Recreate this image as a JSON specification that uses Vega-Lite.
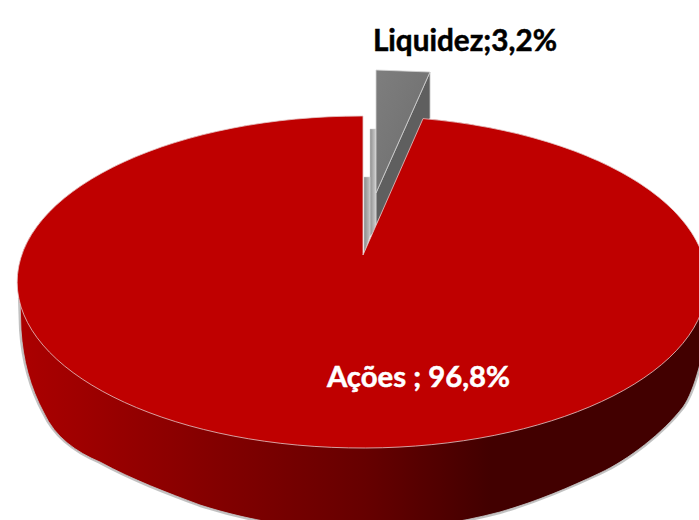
{
"$schema":"https://vega.github.io/schema/vega-lite/v6.json",
"width":699,"height":520,"padding":0,
"autosize":{"type":"fit","contains":"padding"},
"background":"#ffffff",
"config":{"view":{"stroke":null}},
"data":{"values":[
{"categoria":"Ações","valor":96.8,"rotulo":"Ações ; 96,8%"},
{"categoria":"Liquidez","valor":3.2,"rotulo":"Liquidez;3,2%"}
]},
"encoding":{
"x":{"field":"categoria","type":"nominal","axis":null,"scale":{"domain":["Ações","Liquidez"],"range":[363,376],"padding":0}},
"y":{"field":"categoria","type":"nominal","axis":null,"scale":{"domain":["Ações","Liquidez"],"range":[255,193],"padding":0}},
"size":{"value":4}
},
"layer":[
{"transform":[{"filter":"datum.categoria==='Ações'"}],
"mark":{"type":"point","filled":false,"opacity":0.45,"stroke":"#777777","strokeWidth":4,"fill":null,"clip":true,"shape":"M-343,45L-342,75C-340,105 -333,132 -319,158C-308,182 -287,197 -263,207C-230,225 -195,238 -163,250C-110,267 -55,275 -1,275C50,275 95,268 137,257C175,246 205,233 237,218C265,205 300,178 320,152C332,135 340,100 349,55L349,27Z"}},
{"transform":[{"filter":"datum.categoria==='Ações'"}],
"mark":{"type":"point","filled":true,"opacity":1,"stroke":"#c8c8c8","strokeWidth":0.8,"clip":true,
"fill":{"gradient":"linear","x1":0,"x2":1,"y1":0,"y2":0,"stops":[{"offset":0,"color":"#ab0000"},{"offset":0.26,"color":"#860000"},{"offset":0.5,"color":"#660000"},{"offset":0.68,"color":"#420000"},{"offset":1,"color":"#420000"}]},
"shape":"M-343,45L-342,75C-340,105 -333,132 -319,158C-308,182 -287,197 -263,207C-230,225 -195,238 -163,250C-110,267 -55,275 -1,275C50,275 95,268 137,257C175,246 205,233 237,218C265,205 300,178 320,152C332,135 340,100 349,55L349,27Z"}},
{"transform":[{"filter":"datum.categoria==='Liquidez'"}],
"mark":{"type":"point","filled":true,"opacity":1,"fill":"#5f5f5f","stroke":"#c4c4c4","strokeWidth":0.8,"shape":"M54,-121L54,-75L0,32L0,0Z"}},
{"transform":[{"filter":"datum.categoria==='Liquidez'"}],
"mark":{"type":"point","filled":true,"opacity":1,"stroke":"#d0d0d0","strokeWidth":0.5,
"fill":{"gradient":"linear","x1":0,"x2":1,"y1":0,"y2":0,"stops":[{"offset":0,"color":"#8f8f8f"},{"offset":1,"color":"#d0d0d0"}]},
"shape":"M-6,-64L0,-64L0,37L-6,43Z"}},
{"transform":[{"filter":"datum.categoria==='Liquidez'"}],
"mark":{"type":"point","filled":true,"opacity":1,"stroke":"#d0d0d0","strokeWidth":0.5,
"fill":{"gradient":"linear","x1":0,"x2":1,"y1":0,"y2":0,"stops":[{"offset":0,"color":"#8a8a8a"},{"offset":1,"color":"#c4c4c4"}]},
"shape":"M-12,-16L-6,-16L-6,43L-12,62Z"}},
{"transform":[{"filter":"datum.categoria==='Liquidez'"}],
"mark":{"type":"point","filled":true,"opacity":1,"stroke":"#d4d4d4","strokeWidth":0.8,
"fill":{"gradient":"linear","x1":0,"x2":1,"y1":0,"y2":1,"stops":[{"offset":0,"color":"#7e7e7e"},{"offset":1,"color":"#6c6c6c"}]},
"shape":"M0,-123L54,-121L0,0Z"}},
{"transform":[{"filter":"datum.categoria==='Ações'"}],
"mark":{"type":"point","filled":true,"opacity":1,"fill":"#bf0000","stroke":"#e6c8c8","strokeWidth":0.8,"clip":true,"shape":"M0,0L0,-139A345,166 0 1 0 60,-136.4Z"}},
{"transform":[{"filter":"datum.categoria==='Ações'"}],
"mark":{"type":"text","font":"Lato","fontWeight":"bold","fontSize":29.3,"color":"#ffffff","stroke":"#ffffff","strokeWidth":0.5,"align":"center","baseline":"middle"},
"encoding":{"text":{"field":"rotulo"},"size":{"value":29.3},
"x":{"field":"categoria","type":"nominal","axis":null,"scale":{"domain":["Ações"],"range":[418.5,418.5],"padding":0}},
"y":{"field":"categoria","type":"nominal","axis":null,"scale":{"domain":["Ações"],"range":[377.5,377.5],"padding":0}}}},
{"transform":[{"filter":"datum.categoria==='Liquidez'"}],
"mark":{"type":"text","font":"Lato","fontWeight":"bold","fontSize":29.7,"color":"#000000","stroke":"#000000","strokeWidth":0.5,"align":"center","baseline":"middle"},
"encoding":{"text":{"field":"rotulo"},"size":{"value":29.7},
"x":{"field":"categoria","type":"nominal","axis":null,"scale":{"domain":["Liquidez"],"range":[465,465],"padding":0}},
"y":{"field":"categoria","type":"nominal","axis":null,"scale":{"domain":["Liquidez"],"range":[41.5,41.5],"padding":0}}}}
],
"resolve":{"scale":{"x":"independent","y":"independent"}}
}
